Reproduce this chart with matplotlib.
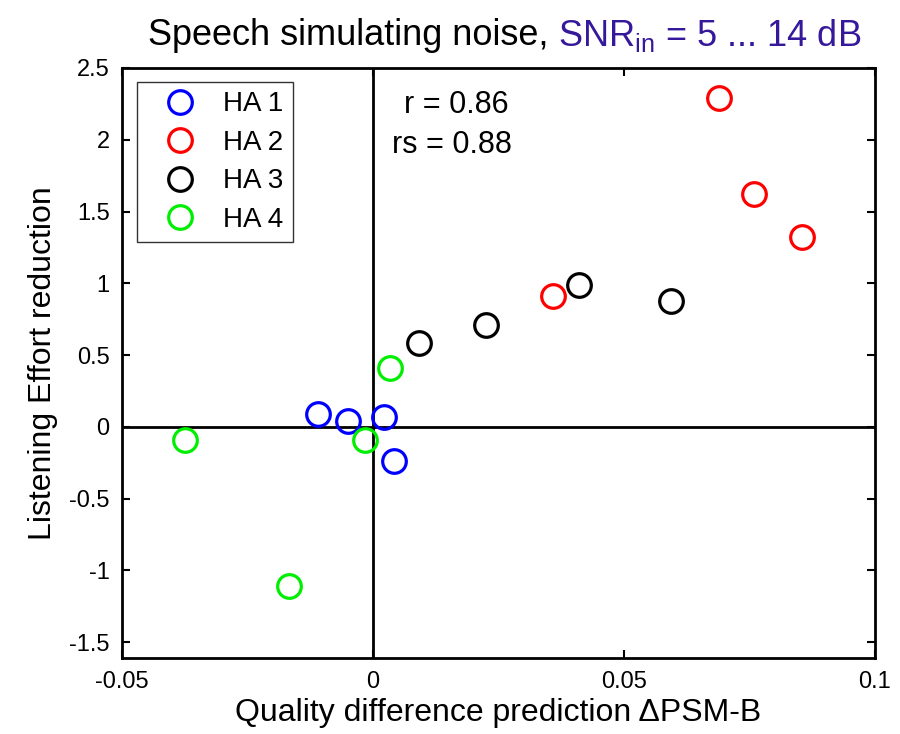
import matplotlib
matplotlib.use('Agg')
import matplotlib.pyplot as plt

plt.rcParams['font.family'] = ['Liberation Sans', 'DejaVu Sans']

labels = ['HA 1', 'HA 2', 'HA 3', 'HA 4']
colors = ['#0000ff', '#ff0000', '#000000', '#00ee00']
ha1_x = [-0.011, -0.005, 0.0022, 0.0042]
ha1_y = [0.09, 0.04, 0.07, -0.24]
ha2_x = [0.069, 0.0759, 0.0855, 0.0359]
ha2_y = [2.29, 1.62, 1.32, 0.91]
ha3_x = [0.0092, 0.0225, 0.041, 0.0594]
ha3_y = [0.585, 0.71, 0.99, 0.88]
ha4_x = [-0.0375, -0.0167, -0.0016, 0.0034]
ha4_y = [-0.09, -1.11, -0.09, 0.41]
xs = [ha1_x, ha2_x, ha3_x, ha4_x]
ys = [ha1_y, ha2_y, ha3_y, ha4_y]

fig = plt.figure(figsize=(9, 7.34), dpi=100)
ax = fig.add_axes([0.1356, 0.1035, 0.8366, 0.8039])

ax.axhline(0, color='k', lw=2, zorder=1)
ax.axvline(0, color='k', lw=2, zorder=1)
for x, y, c, lab in zip(xs, ys, colors, labels):
    ax.plot(x, y, 'o', mfc='none', mec=c, ms=17, mew=2.3, label=lab, zorder=3)

ax.set_xlim(-0.05, 0.1)
ax.set_ylim(-1.61, 2.5)
ax.set_xticks([-0.05, 0, 0.05, 0.1])
ax.set_xticklabels(['-0.05', '0', '0.05', '0.1'])
ax.set_yticks([-1.5, -1, -0.5, 0, 0.5, 1, 1.5, 2, 2.5])
ax.set_yticklabels(['-1.5', '-1', '-0.5', '0', '0.5', '1', '1.5', '2', '2.5'])
ax.tick_params(direction='in', labelsize=17, width=1.5, length=6, top=True, right=True, pad=9)
for s in ax.spines.values():
    s.set_linewidth(2)

ax.set_xlabel('Quality difference prediction \u0394PSM-B', fontsize=23, labelpad=4)
ax.set_ylabel('Listening Effort reduction', fontsize=23, labelpad=8)

# title in two colours
fig.text(0.62, 0.952, 'Speech simulating noise, ', fontsize=26, ha='right', va='center')
fig.text(0.62, 0.952, r'SNR$_{\mathregular{in}}$ = 5 ... 14 dB', fontsize=26, ha='left', va='center',
         color='#36189a')

ax.text(0.0165, 2.24, 'r = 0.86', fontsize=22, ha='center', va='center')
ax.text(0.0157, 1.96, 'rs = 0.88', fontsize=22, ha='center', va='center')

leg = ax.legend(loc='upper left', bbox_to_anchor=(0.02, 0.977), fancybox=False, edgecolor='k',
                prop={'size': 20}, handletextpad=0.35, labelspacing=0.45,
                borderpad=0.35, handlelength=2.4, borderaxespad=0)
leg.get_frame().set_linewidth(1)

fig.savefig('out.png', dpi=100)
